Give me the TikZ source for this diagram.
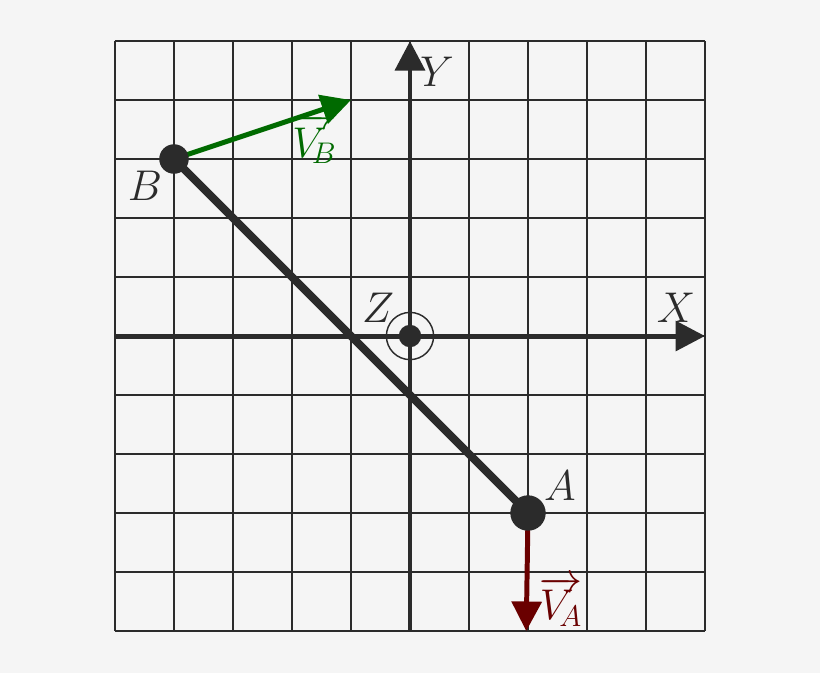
\documentclass[tikz,border=0pt]{standalone}
\usepackage{tikz}
\usepackage{xcolor}
\usetikzlibrary{arrows.meta}
\definecolor{bg}{HTML}{F5F5F5}
\definecolor{ink}{HTML}{2B2B2B}
\definecolor{vgreen}{HTML}{006A00}
\definecolor{vred}{HTML}{6A0000}
\pgfdeclarelayer{front}
\pgfsetlayers{main,front}

\begin{document}
\begin{tikzpicture}
    [every node/.style={inner sep=0pt},
     dot/.style={circle,fill=ink},
     lbl/.style={text=ink,font=\fontsize{22}{26}\selectfont},
     vlbl/.style={font=\fontsize{20}{24}\selectfont},
     tip/.style={-{Triangle[length=0.5cm,width=0.5cm]}}]
    \fill[bg] (-6.949,-5.712) rectangle (6.949,5.695);
    \useasboundingbox (-6.949,-5.712) rectangle (6.949,5.695);

    % grille
    \foreach \k in {-5,...,5}
    {
        \draw[ink, line width=1pt] (\k,-5) -- (\k,5);
        \draw[ink, line width=1pt] (-5,\k) -- (5,\k);
    }

    % axes
    \coordinate (x0) at (-5, 0);
    \coordinate (x1) at (5, 0);
    \coordinate (y0) at (0, -5);
    \coordinate (y1) at (0, 5);
    \draw[ink, line width=2.4pt, tip] (x0) -- (x1);
    \draw[ink, line width=2.4pt, tip] (y0) -- (y1);
    \node[lbl] (lx) at (4.51, 0.47) {$X$};
    \node[lbl] (ly) at (0.46, 4.47) {$Y$};

    % points
    \begin{pgfonlayer}{front}
    \node[dot, minimum size=0.5cm] (B) at (-4, 3) {};
    \node[dot, minimum size=0.6cm] (A) at (2, -3) {};
    \node[dot, minimum size=0.38cm] (Z) at (0, 0) {};
    \node[circle, draw=ink, line width=0.7pt, minimum size=0.8cm] (Zr) at (0, 0) {};
    \end{pgfonlayer}
    \node[lbl] (lB) at (-4.49, 2.54) {$B$};
    \node[lbl] (lA) at (2.54, -2.54) {$A$};
    \node[lbl] (lZ) at (-0.54, 0.47) {$Z$};

    % barre
    \draw[ink, line width=3.9pt] (B.center) -- (A.center);

    % vitesses
    \coordinate (vB) at (-1, 4);
    \coordinate (vA) at (1.97, -5);
    \draw[vgreen, line width=2.4pt, tip] (B.center) -- (vB);
    \draw[vred, line width=2.4pt, tip] (A.center) -- (vA);
    \node[vlbl, text=vgreen] (lvB) at (-1.62, 3.34) {$\overrightarrow{V_{\!B}}$};
    \node[vlbl, text=vred] (lvA) at (2.56, -4.5) {$\overrightarrow{V_{\!A}}$};
\end{tikzpicture}
\end{document}
